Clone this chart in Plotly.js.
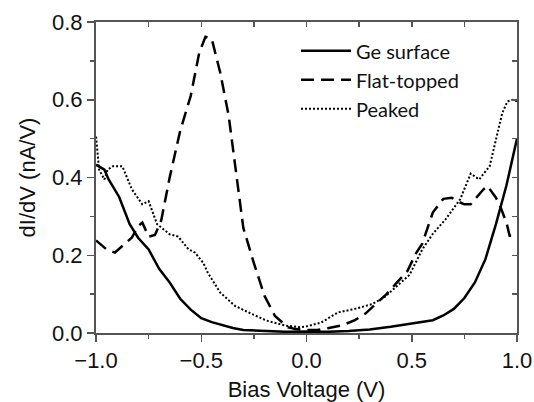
<!DOCTYPE html>
<html>
<head>
<meta charset="utf-8">
<script src="https://cdn.plot.ly/plotly-3.0.1.min.js"></script>
<style>html,body{margin:0;padding:0;background:#fff;}#chart{width:534px;height:402px;}</style>
</head>
<body>
<div id="chart"></div>
<script>
// Ge surface (solid)
const geV   = [-1.0,-0.96,-0.94,-0.89,-0.84,-0.80,-0.75,-0.70,-0.65,-0.60,-0.55,-0.50,-0.45,-0.40,-0.35,-0.30,-0.20,-0.10,0.0,0.1,0.2,0.3,0.4,0.5,0.6,0.65,0.70,0.75,0.80,0.85,0.90,0.95,1.0];
const geVal = [0.433,0.42,0.395,0.35,0.28,0.245,0.215,0.165,0.13,0.088,0.060,0.038,0.028,0.021,0.013,0.008,0.005,0.003,0.004,0.003,0.005,0.009,0.016,0.024,0.033,0.045,0.062,0.09,0.13,0.19,0.28,0.38,0.50];
// Flat-topped (dashed)
const flatV   = [-1.0,-0.95,-0.91,-0.87,-0.83,-0.80,-0.78,-0.75,-0.72,-0.69,-0.65,-0.60,-0.55,-0.51,-0.48,-0.45,-0.41,-0.37,-0.33,-0.30,-0.25,-0.20,-0.15,-0.09,-0.05,0.0,0.05,0.10,0.17,0.23,0.28,0.33,0.38,0.43,0.48,0.52,0.55,0.60,0.65,0.69,0.72,0.75,0.78,0.84,0.86,0.90,0.92,0.95,0.965,1.0];
const flatVal = [0.238,0.215,0.207,0.225,0.245,0.275,0.284,0.248,0.252,0.29,0.40,0.52,0.61,0.72,0.762,0.756,0.67,0.56,0.39,0.27,0.18,0.096,0.044,0.015,0.01,0.008,0.008,0.012,0.02,0.033,0.05,0.075,0.10,0.13,0.16,0.205,0.23,0.31,0.345,0.348,0.338,0.331,0.331,0.369,0.378,0.348,0.326,0.284,0.25,0.25];
// Peaked (dotted)
const peakV   = [-1.0,-0.985,-0.96,-0.945,-0.92,-0.875,-0.83,-0.78,-0.75,-0.71,-0.65,-0.61,-0.56,-0.53,-0.49,-0.47,-0.41,-0.34,-0.26,-0.19,-0.10,-0.03,0.0,0.07,0.15,0.23,0.31,0.37,0.43,0.49,0.55,0.60,0.66,0.73,0.78,0.82,0.87,0.90,0.93,0.955,0.98,1.0];
const peakVal = [0.505,0.42,0.395,0.42,0.429,0.429,0.37,0.331,0.339,0.28,0.254,0.248,0.215,0.207,0.18,0.156,0.104,0.07,0.049,0.032,0.019,0.015,0.017,0.027,0.053,0.062,0.074,0.092,0.121,0.15,0.215,0.255,0.292,0.344,0.41,0.395,0.429,0.497,0.566,0.596,0.60,0.596];

const seriesNames = ['Ge surface','Flat-topped','Peaked'];
const xTitle = 'Bias Voltage (V)';
const yTitle = 'dI/dV (nA/V)';

const data = [
  {x: geV, y: geVal, name: seriesNames[0], mode: 'lines', line: {color: '#000', width: 2.5}},
  {x: flatV, y: flatVal, name: seriesNames[1], mode: 'lines', line: {color: '#000', width: 2.5, dash: '13px,7px'}},
  {x: peakV, y: peakVal, name: seriesNames[2], mode: 'lines', line: {color: '#000', width: 2, dash: '2px,2px'}},
  {x: geV, y: geVal, xaxis: 'x2', yaxis: 'y2', mode: 'lines', opacity: 0, showlegend: false, hoverinfo: 'skip', line: {width: 0}}
];

const axisFont = {family: 'Arial', size: 22, color: '#111'};
const lineCol = '#555';

const layout = {
  width: 534, height: 402,
  margin: {l: 96, r: 17, t: 22, b: 69},
  paper_bgcolor: '#fff', plot_bgcolor: '#fff',
  showlegend: true,
  legend: {
    x: 0.475, y: 0.97, xanchor: 'left', yanchor: 'top',
    font: {family: 'Lato', size: 20, color: '#111'},
    bgcolor: 'rgba(0,0,0,0)', borderwidth: 0, tracegroupgap: 0, itemwidth: 50
  },
  xaxis: {
    range: [-1, 1], tick0: -1, dtick: 0.5, tickformat: '.1f',
    ticks: 'outside', ticklen: 7, tickwidth: 1.5, tickcolor: lineCol,
    minor: {ticks: 'outside', dtick: 0.25, ticklen: 4, tickwidth: 1.5, tickcolor: lineCol, showgrid: false},
    showline: true, linecolor: lineCol, linewidth: 2, mirror: false,
    showgrid: false, zeroline: false, tickfont: axisFont,
    title: {text: xTitle, font: axisFont, standoff: 14}
  },
  yaxis: {
    range: [0, 0.8], tick0: 0, dtick: 0.2, tickformat: '.1f',
    ticks: 'outside', ticklen: 7, tickwidth: 1.5, tickcolor: lineCol,
    minor: {ticks: 'outside', dtick: 0.1, ticklen: 4, tickwidth: 1.5, tickcolor: lineCol, showgrid: false},
    showline: true, linecolor: lineCol, linewidth: 2, mirror: false,
    showgrid: false, zeroline: false, tickfont: axisFont,
    title: {text: yTitle, font: axisFont, standoff: 10}
  },
  xaxis2: {
    overlaying: 'x', side: 'top', anchor: 'y2', range: [-1, 1], tick0: -1, dtick: 0.25,
    ticks: 'inside', ticklen: 5, tickwidth: 1.5, tickcolor: lineCol,
    showticklabels: false, showline: true, linecolor: lineCol, linewidth: 2,
    showgrid: false, zeroline: false
  },
  yaxis2: {
    overlaying: 'y', side: 'right', anchor: 'x2', range: [0, 0.8], tick0: 0, dtick: 0.1,
    ticks: 'inside', ticklen: 5, tickwidth: 1.5, tickcolor: lineCol,
    showticklabels: false, showline: true, linecolor: lineCol, linewidth: 2,
    showgrid: false, zeroline: false
  }
};

Plotly.newPlot('chart', data, layout, {staticPlot: true, displayModeBar: false});
</script>
</body>
</html>
